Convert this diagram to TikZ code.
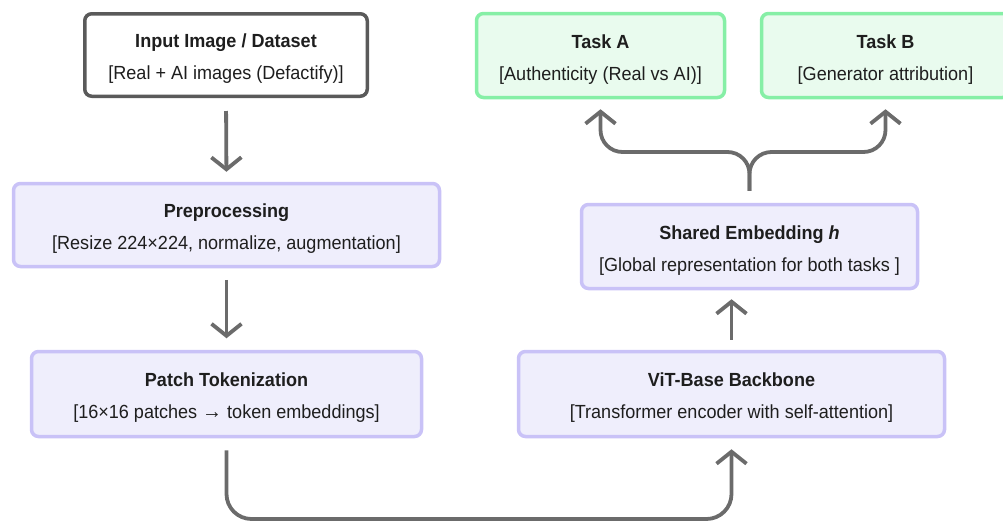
\documentclass[tikz,border=0pt]{standalone}
\usepackage{fontspec}
\setmainfont{Liberation Sans}[FakeStretch=0.95]
\usetikzlibrary{arrows.meta}
\definecolor{arrgray}{HTML}{6B6B6B}
\definecolor{inborder}{HTML}{5A5A5A}
\definecolor{purfill}{HTML}{EFEEFC}
\definecolor{purborder}{HTML}{C9C2F7}
\definecolor{grfill}{HTML}{E9FBEE}
\definecolor{grborder}{HTML}{86EFA6}
\definecolor{txt}{HTML}{1E1E1E}
\newcommand\boxttl[1]{\rule{0pt}{21pt}\textbf{#1}}
\tikzset{
  box/.style={rounded corners=7pt, line width=3.5pt, align=center, text=txt,
    font=\fontsize{19}{32}\selectfont, inner sep=0pt},
  inbox/.style={box, draw=inborder, fill=white},
  purbox/.style={box, draw=purborder, fill=purfill},
  grbox/.style={box, draw=grborder, fill=grfill},
  arr/.style={draw=arrgray, line width=3.8pt, -{Straight Barb[length=12pt,width=30pt]}},
}
\begin{document}
\begin{tikzpicture}[x=1pt,y=-1pt]
\useasboundingbox (0,0) rectangle (1003,523);
\node[inbox, minimum width=282.5pt, minimum height=82.5pt] (input) at (226,55)
  {\boxttl{Input Image / Dataset}\\{[}Real + AI images (Defactify)]};
\node[purbox, minimum width=426pt, minimum height=83pt] (prep) at (226.5,225)
  {\boxttl{Preprocessing}\\{[}Resize 224×224, normalize, augmentation]};
\node[purbox, minimum width=390pt, minimum height=85pt] (patch) at (226.5,394)
  {\boxttl{Patch Tokenization}\\{[}16×16 patches {\fontsize{21}{32}\selectfont →} token embeddings]};
\node[purbox, minimum width=426pt, minimum height=85pt] (vit) at (731.5,394)
  {\boxttl{ViT-Base Backbone}\\{[}Transformer encoder with self-attention]};
\node[purbox, minimum width=336pt, minimum height=84pt] (shared) at (749.5,246.5)
  {\boxttl{Shared Embedding \textit{h}}\\{[}Global representation for both tasks ]};
\node[grbox, minimum width=248pt, minimum height=84pt] (taskA) at (600.5,55.5)
  {\boxttl{Task A}\\{[}Authenticity (Real vs AI)]};
\node[grbox, minimum width=248pt, minimum height=84pt] (taskB) at (885.5,55.5)
  {\boxttl{Task B}\\{[}Generator attribution]};

\coordinate (fy) at (0,152);
\coordinate (by) at (0,519);

\draw[arr, shorten <=13pt, shorten >=10pt] (input.south) -- (prep.north);
\draw[arr, shorten <=11.5pt, shorten >=11.5pt] (prep.south) -- (patch.north);
\draw[arr, rounded corners=25pt, shorten <=12pt, shorten >=11pt]
  (patch.south) -- (patch.south |- by) -- (vit.south |- by) -- (vit.south);
\draw[arr, shorten <=10pt, shorten >=9pt] (vit.north) -- (vit.north |- shared.south);
\draw[arr, rounded corners=22pt, shorten <=12pt, shorten >=10pt]
  (shared.north) -- (shared.north |- fy) -- (taskA.south |- fy) -- (taskA.south);
\draw[arr, rounded corners=22pt, shorten <=12pt, shorten >=10pt]
  (shared.north) -- (shared.north |- fy) -- (taskB.south |- fy) -- (taskB.south);
\end{tikzpicture}
\end{document}
